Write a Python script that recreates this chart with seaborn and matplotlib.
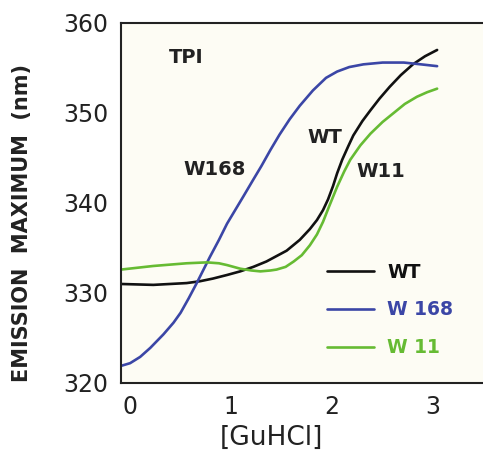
import matplotlib
matplotlib.use("Agg")
import matplotlib.pyplot as plt
import seaborn as sns
import pandas as pd

# --- data ---
wt_x = [-0.09, 0.23, 0.56, 0.69, 0.82, 0.96, 1.09, 1.22, 1.35, 1.45, 1.55, 1.68, 1.78, 1.85, 1.91,
        1.96, 2.01, 2.05, 2.10, 2.16, 2.21, 2.30, 2.38, 2.47, 2.57, 2.68, 2.80, 2.92, 3.04]
wt_y = [331.0, 330.9, 331.1, 331.3, 331.6, 332.0, 332.4, 332.9, 333.5, 334.1, 334.7, 335.9, 337.1, 338.1, 339.2,
        340.4, 341.9, 343.3, 344.8, 346.3, 347.5, 349.1, 350.3, 351.6, 352.9, 354.2, 355.4, 356.3, 357.0]

w168_x = [-0.09, 0.00, 0.10, 0.20, 0.33, 0.43, 0.50, 0.58, 0.66, 0.79, 0.88, 0.96, 1.04, 1.12, 1.22,
          1.30, 1.39, 1.48, 1.58, 1.68, 1.81, 1.94, 2.05, 2.17, 2.31, 2.50, 2.71, 2.88, 3.04]
w168_y = [321.9, 322.2, 322.9, 323.9, 325.4, 326.7, 327.8, 329.4, 331.1, 334.0, 335.9, 337.7, 339.2, 340.7, 342.6,
          344.1, 345.9, 347.6, 349.3, 350.8, 352.5, 353.9, 354.6, 355.1, 355.4, 355.6, 355.6, 355.4, 355.2]

w11_x = [-0.09, 0.23, 0.56, 0.76, 0.88, 0.96, 1.09, 1.20, 1.29, 1.39, 1.45, 1.54, 1.62, 1.70, 1.78,
         1.85, 1.91, 1.97, 2.05, 2.12, 2.18, 2.28, 2.38, 2.50, 2.61, 2.72, 2.84, 2.94, 3.04]
w11_y = [332.6, 333.0, 333.3, 333.4, 333.3, 333.1, 332.7, 332.5, 332.4, 332.5, 332.6, 332.9, 333.5, 334.2, 335.3,
         336.5, 337.9, 339.6, 341.8, 343.5, 344.8, 346.4, 347.7, 349.0, 350.0, 351.0, 351.8, 352.3, 352.7]

series_names = ["WT", "W168", "W11"]
legend_labels = ["WT", "W 168", "W 11"]
x_ticks = [0, 1, 2, 3]
y_ticks = [320, 330, 340, 350, 360]

colors = {"WT": "#111111", "W168": "#3b46a6", "W11": "#66bb33"}

df = pd.concat([
    pd.DataFrame({"GuHCl": wt_x, "lam": wt_y, "series": "WT"}),
    pd.DataFrame({"GuHCl": w168_x, "lam": w168_y, "series": "W168"}),
    pd.DataFrame({"GuHCl": w11_x, "lam": w11_y, "series": "W11"}),
], ignore_index=True)

sns.set_style("white")
plt.rcParams["font.family"] = ["DejaVu Sans"]

fig = plt.figure(figsize=(4.83, 4.59), dpi=100)
ax = fig.add_axes([0.2505, 0.1656, 0.78, 0.7844])
ax.set_facecolor("#fdfcf4")

sns.lineplot(data=df, x="GuHCl", y="lam", hue="series", hue_order=series_names,
             palette=colors, linewidth=1.9, ax=ax, sort=False, estimator=None, legend=False)

ax.set_xlim(-0.09, 3.64)
ax.set_ylim(320, 360)
ax.set_xticks(x_ticks)
ax.set_yticks(y_ticks)
ax.tick_params(direction="in", length=7, width=1.5, labelsize=17, pad=9, colors="#222222")
for s in ["left", "bottom", "top"]:
    ax.spines[s].set_linewidth(1.5)
    ax.spines[s].set_color("#222222")
ax.spines["right"].set_visible(False)

ax.set_xlabel("[GuHCl]", fontsize=19, color="#222222", va="center")
ax.xaxis.set_label_coords(0.40, -0.153)
ax.set_ylabel("EMISSION  MAXIMUM  (nm)", fontsize=15, fontweight="bold", color="#222222",
              va="center", ha="center")
ax.yaxis.set_label_coords(-0.263, 0.443)

# annotations
ax.text(0.56, 356.2, "TPI", fontsize=14, fontweight="bold", ha="center", va="center", color="#222222")
ax.text(0.84, 343.7, "W168", fontsize=14, fontweight="bold", ha="center", va="center", color="#222222")
ax.text(1.93, 347.3, "WT", fontsize=14, fontweight="bold", ha="center", va="center", color="#222222")
ax.text(2.48, 343.5, "W11", fontsize=14, fontweight="bold", ha="center", va="center", color="#222222")

# legend
handles = [plt.Line2D([], [], color=colors[n], linewidth=1.9) for n in series_names]
leg = ax.legend(handles, legend_labels, loc="upper left", bbox_to_anchor=(0.547, 0.334),
                borderaxespad=0, borderpad=0,
                frameon=False, handlelength=2.5, handletextpad=0.7, labelspacing=1.0,
                prop={"size": 13.5, "weight": "bold"}, labelcolor="linecolor")

fig.savefig("out.png", dpi=100, facecolor="white")
